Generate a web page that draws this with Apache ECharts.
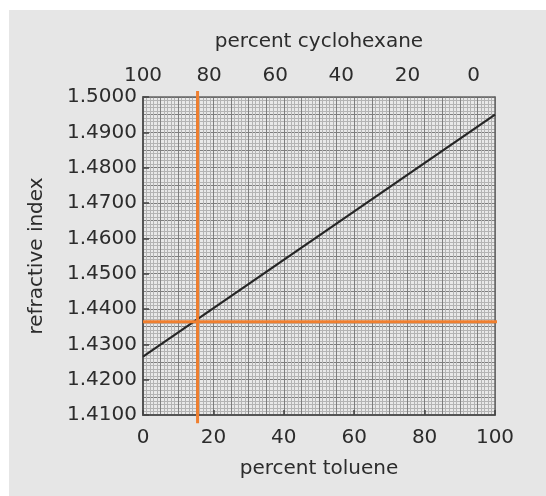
<!DOCTYPE html>
<html>
<head>
<meta charset="utf-8">
<script src="https://cdn.jsdelivr.net/npm/echarts@6/dist/echarts.min.js"></script>
<style>
  html, body { margin: 0; padding: 0; background: #fff; }
  #chart { width: 546px; height: 496px; }
</style>
</head>
<body>
<div id="chart"></div>
<script>
// calibration line: percent toluene vs refractive index
const toluenePct = [0, 100]
const refractiveIdx = [1.4265, 1.4950]

// orange reading guides (they run a little past the plot frame)
const guideVertical = [[15.5, 1.5017], [15.5, 1.4077]]
const guideHorizontal = [[0, 1.4364], [103.5, 1.4364]]

const cyclohexaneTicks = [0, 20, 40, 60, 80, 100]

const ink = '#2c2c2c'
const font = 'DejaVu Sans'

const chart = echarts.init(document.getElementById('chart'))

const option = {
  backgroundColor: '#e6e6e6',
  animation: false,
  textStyle: { fontFamily: font },
  graphic: [
    { type: 'rect', left: 0, top: 0, shape: { width: 546, height: 10 }, style: { fill: '#fff' } },
    { type: 'rect', left: 0, top: 0, shape: { width: 9, height: 496 }, style: { fill: '#fff' } }
  ],
  grid: {
    left: 143,
    right: 51,
    top: 97,
    bottom: 81,
    show: true,
    backgroundColor: '#e9e9e9',
    borderWidth: 0
  },
  xAxis: [
    {
      type: 'value',
      position: 'bottom',
      min: 0,
      max: 100,
      interval: 20,
      name: 'percent toluene',
      nameLocation: 'middle',
      nameGap: 44,
      nameTextStyle: { fontSize: 20, color: ink, fontFamily: font },
      axisLine: { show: true, onZero: false, lineStyle: { color: '#555', width: 2 } },
      axisTick: { show: true, inside: true, length: 5, lineStyle: { color: '#444', width: 1.5 } },
      axisLabel: { fontSize: 20, color: ink, margin: 13, fontFamily: font },
      splitLine: { show: false }
    },
    {
      type: 'value',
      position: 'top',
      inverse: true,
      min: -6.5,
      max: 100,
      name: 'percent cyclohexane',
      nameLocation: 'middle',
      nameGap: 45,
      nameTextStyle: { fontSize: 20, color: ink, fontFamily: font },
      axisLine: { show: true, onZero: false, lineStyle: { color: '#666', width: 1.5 } },
      axisTick: { show: false },
      axisLabel: { fontSize: 20, color: ink, margin: 11, fontFamily: font, customValues: cyclohexaneTicks },
      splitLine: { show: false }
    },
    {
      // graph paper in x
      type: 'value',
      position: 'bottom',
      min: 0,
      max: 100,
      interval: 5,
      axisLine: { show: false, onZero: false },
      axisTick: { show: false },
      axisLabel: { show: false },
      splitLine: { show: true, lineStyle: { color: '#7e7e7e', width: 1 } },
      minorTick: { show: false, splitNumber: 5 },
      minorSplitLine: { show: true, lineStyle: { color: '#b4b4b4', width: 1 } }
    }
  ],
  yAxis: [
    {
      type: 'value',
      position: 'left',
      min: 1.41,
      max: 1.5,
      interval: 0.01,
      name: 'refractive index',
      nameLocation: 'middle',
      nameGap: 96,
      nameTextStyle: { fontSize: 20, color: ink, fontFamily: font },
      axisLine: { show: true, onZero: false, lineStyle: { color: '#555', width: 2 } },
      axisTick: { show: true, inside: true, length: 6, lineStyle: { color: '#444', width: 1.5 } },
      axisLabel: {
        fontSize: 20,
        color: ink,
        margin: 6,
        fontFamily: font,
        formatter: v => v.toFixed(4)
      },
      splitLine: { show: false }
    },
    {
      // graph paper in y, plus the right frame
      type: 'value',
      position: 'right',
      min: 1.41,
      max: 1.5,
      interval: 0.005,
      axisLine: { show: true, onZero: false, lineStyle: { color: '#666', width: 1.5 } },
      axisTick: { show: false },
      axisLabel: { show: false },
      splitLine: { show: true, lineStyle: { color: '#7e7e7e', width: 1 } },
      minorTick: { show: false, splitNumber: 5 },
      minorSplitLine: { show: true, lineStyle: { color: '#b4b4b4', width: 1 } }
    }
  ],
  series: [
    {
      name: 'calibration',
      type: 'line',
      xAxisIndex: 0,
      yAxisIndex: 0,
      data: toluenePct.map((x, i) => [x, refractiveIdx[i]]),
      symbol: 'none',
      lineStyle: { color: '#262626', width: 2.2 },
      z: 5
    },
    {
      name: 'guide x',
      type: 'line',
      xAxisIndex: 0,
      yAxisIndex: 0,
      data: guideVertical,
      symbol: 'none',
      clip: false,
      lineStyle: { color: '#f07f2f', width: 3 },
      z: 6
    },
    {
      name: 'guide y',
      type: 'line',
      xAxisIndex: 0,
      yAxisIndex: 0,
      data: guideHorizontal,
      symbol: 'none',
      clip: false,
      lineStyle: { color: '#f07f2f', width: 3 },
      z: 6
    }
  ]
}

chart.setOption(option)
</script>
</body>
</html>
